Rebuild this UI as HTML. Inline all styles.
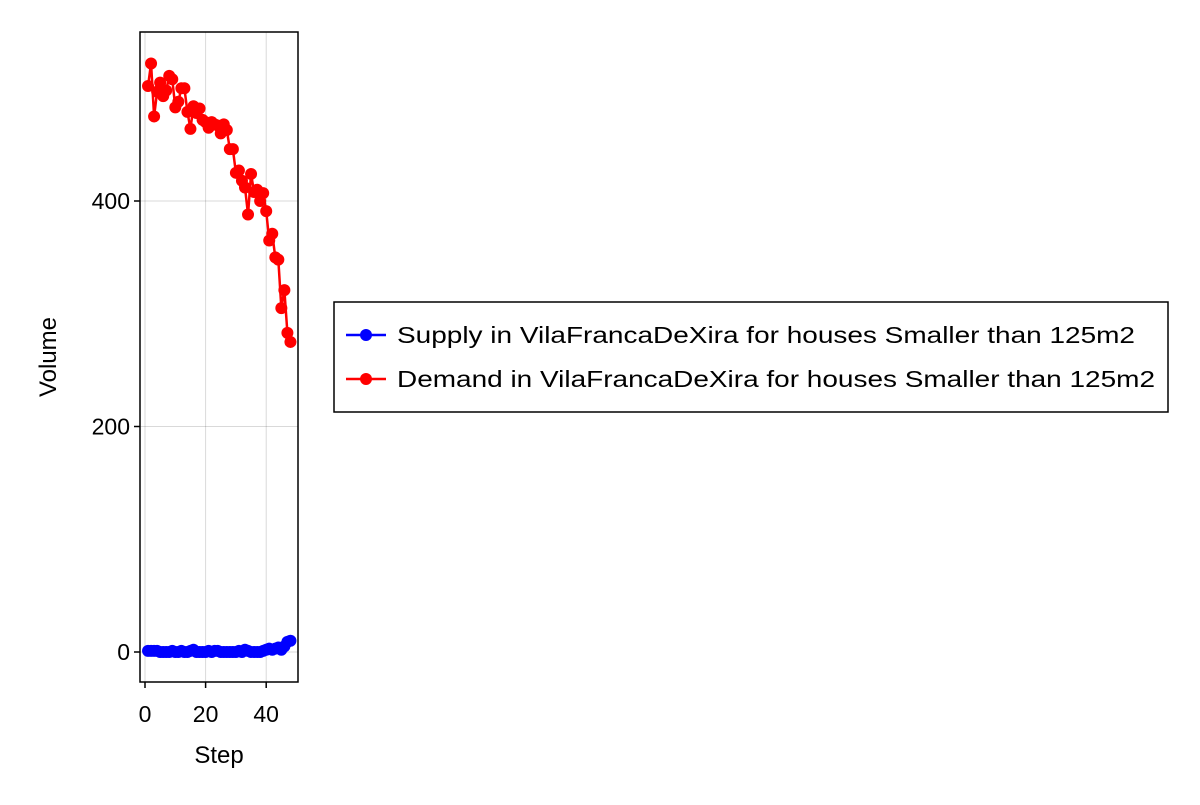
<!DOCTYPE html>
<html><head><meta charset="utf-8"><style>
body{margin:0;background:#fff;font-family:"Liberation Sans",sans-serif}
</style></head><body>
<svg width="1200" height="800" xmlns="http://www.w3.org/2000/svg" font-family="Liberation Sans, sans-serif">
<g id="grid"></g>
<g id="series"></g>
<rect x="140" y="32" width="158" height="650" fill="none" stroke="#000" stroke-width="1.5"/>
<g id="axes"></g>
<text x="219" y="763" font-size="24" text-anchor="middle">Step</text>
<text transform="translate(56,357) rotate(-90)" font-size="24" text-anchor="middle">Volume</text>
<g>
<rect x="334" y="302" width="834" height="110" fill="#fff" stroke="#000" stroke-width="1.5"/>
<g>
<line x1="346" y1="335" x2="386" y2="335" stroke="#00f" stroke-width="2.5"/><circle cx="366" cy="335" r="6" fill="#00f"/>
<text x="397" y="343" font-size="23" textLength="738" lengthAdjust="spacingAndGlyphs">Supply in VilaFrancaDeXira for houses Smaller than 125m2</text></g>
<g>
<line x1="346" y1="379" x2="386" y2="379" stroke="#f00" stroke-width="2.5"/><circle cx="366" cy="379" r="6" fill="#f00"/>
<text x="397" y="387" font-size="23" textLength="758" lengthAdjust="spacingAndGlyphs">Demand in VilaFrancaDeXira for houses Smaller than 125m2</text></g>
</g>
</svg>
<script>
const steps=[];for(let i=1;i<=48;i++)steps.push(i);
const demand=[502,522,475,497,505,493,498,511,508,483,488,500,500,479,464,484,478,482,472,470,465,470,468,467,460,468,463,446,446,425,427,418,412,388,424,408,410,400,407,391,365,371,350,348,305,321,283,275];
const supply=[1,1,1,1,0,0,0,0,1,0,0,1,0,0,1,2,0,0,0,0,1,0,1,1,0,0,0,0,0,0,1,0,2,1,0,0,0,0,1,2,3,2,3,4,2,5,9,10];
const xTicks=[0,20,40];
const yTicks=[0,200,400];
const X=v=>145+v*3.03;
const Y=v=>652-v*1.1275;
const NS='http://www.w3.org/2000/svg';
function mk(t,a,p){const e=document.createElementNS(NS,t);for(const k in a)e.setAttribute(k,a[k]);p.appendChild(e);return e;}
const g=document.getElementById('grid'),ax=document.getElementById('axes'),s=document.getElementById('series');
xTicks.forEach(t=>{
 const l=mk('line',{x1:X(t),x2:X(t),y1:32,y2:682,stroke:'#000','stroke-opacity':0.15,'stroke-width':1},g);
 
 
 const k=mk('line',{x1:X(t),x2:X(t),y1:682,y2:688,stroke:'#000','stroke-width':1.5},ax);
 
 
 const tx=mk('text',{x:X(t),y:722,'font-size':23,'text-anchor':'middle'},ax);tx.textContent=t;
 
 
});
yTicks.forEach(t=>{
 const l=mk('line',{x1:140,x2:298,y1:Y(t),y2:Y(t),stroke:'#000','stroke-opacity':0.15,'stroke-width':1},g);
 
 
 const k=mk('line',{x1:134,x2:140,y1:Y(t),y2:Y(t),stroke:'#000','stroke-width':1.5},ax);
 
 
 const tx=mk('text',{x:130,y:Y(t)+8,'font-size':23,'text-anchor':'end'},ax);tx.textContent=t;
 
 
});
function draw(vals,col,name){
 const p=mk('polyline',{points:vals.map((v,i)=>X(steps[i])+','+Y(v)).join(' '),fill:'none',stroke:col,'stroke-width':2.5},s);
 
 
 vals.forEach((v,i)=>{const c=mk('circle',{cx:X(steps[i]),cy:Y(v),r:6,fill:col},s);
 
 });
}
draw(supply,'#00f','supply');
draw(demand,'#f00','demand');
</script>
</body></html>
